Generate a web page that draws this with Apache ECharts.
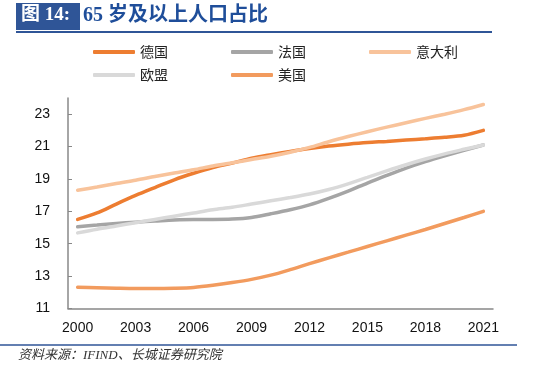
<!DOCTYPE html>
<html><head><meta charset="utf-8">
<script src="https://cdn.jsdelivr.net/npm/echarts@6/dist/echarts.min.js"></script>
<style>html,body{margin:0;padding:0;background:#fff}#c{width:550px;height:368px}</style>
</head><body><div id="c"></div>
<script>
const years = ['2000','2001','2002','2003','2004','2005','2006','2007','2008','2009','2010','2011','2012','2013','2014','2015','2016','2017','2018','2019','2020','2021'];
const germany = [16.5,16.9,17.45,17.98,18.47,18.95,19.35,19.7,19.98,20.28,20.5,20.7,20.88,21.03,21.15,21.25,21.32,21.4,21.48,21.57,21.7,22.0];
const france  = [16.05,16.15,16.25,16.33,16.4,16.47,16.5,16.5,16.52,16.62,16.85,17.1,17.4,17.8,18.25,18.75,19.22,19.67,20.07,20.43,20.77,21.1];
const italy   = [18.3,18.5,18.72,18.92,19.15,19.37,19.57,19.8,20.0,20.2,20.4,20.65,20.95,21.3,21.62,21.92,22.2,22.47,22.74,23.0,23.28,23.6];
const eu      = [15.67,15.9,16.1,16.3,16.5,16.7,16.9,17.1,17.25,17.45,17.65,17.85,18.07,18.35,18.7,19.1,19.5,19.88,20.23,20.55,20.83,21.1];
const usa     = [12.31,12.28,12.25,12.23,12.23,12.25,12.3,12.43,12.6,12.8,13.06,13.4,13.77,14.13,14.48,14.83,15.18,15.53,15.88,16.25,16.62,17.0];
const yTicks = [11,13,15,17,19,21,23];

const chart = echarts.init(document.getElementById('c'));
const mk = (name, data, color) => ({
  name, type:'line', data, smooth:0.3, symbol:'none',
  lineStyle:{width:3.5, color, cap:'round'}, itemStyle:{color}
});
const legendText = {fontSize:14, color:'#222', fontFamily:'Noto Sans CJK SC'};
chart.setOption({
  animation:false,
  grid:{left:68, right:57, top:98, bottom:59.5, containLabel:false},
  graphic:[
    {type:'rect', shape:{x:16,y:3,width:64,height:27}, style:{fill:'#2F5597'}},
    {type:'text', x:21, y:6, style:{text:'图 14:', fill:'#fff', font:'bold 19px "Liberation Serif","Noto Sans CJK SC"'}},
    {type:'text', x:83, y:6, style:{text:'65 岁及以上人口占比', fill:'#1F4E9A', font:'bold 20px "Liberation Serif","Noto Sans CJK SC"'}},
    {type:'line', shape:{x1:16,y1:32,x2:492,y2:32}, style:{stroke:'#2F5597', lineWidth:2}},
    {type:'line', shape:{x1:0,y1:345,x2:517,y2:345}, style:{stroke:'#2F5597', lineWidth:1.5}},
    {type:'text', x:18, y:349, style:{text:'资料来源：IFIND、长城证券研究院', fill:'#333', font:'italic 13px "Liberation Serif","Noto Sans CJK SC"'}}
  ],
  legend:[
    {data:['德国','法国','意大利'], left:93, top:45, padding:0, icon:'roundRect', itemWidth:42, itemHeight:4, itemGap:63, textStyle:legendText},
    {data:['欧盟','美国'], left:93, top:68, padding:0, icon:'roundRect', itemWidth:42, itemHeight:4, itemGap:63, textStyle:legendText}
  ],
  xAxis:{type:'category', data:years, boundaryGap:true,
    axisLine:{lineStyle:{color:'#888', width:1.5}},
    axisTick:{inside:true, length:4, interval:2, lineStyle:{color:'#888'}},
    axisLabel:{interval:2, margin:13, fontSize:14, color:'#111', fontFamily:'Liberation Sans'}},
  yAxis:{type:'value', min:11, max:24, interval:1,
    splitLine:{show:false},
    axisLine:{show:true, lineStyle:{color:'#888', width:1.5}},
    axisTick:{show:true, inside:true, length:4, customValues:yTicks, lineStyle:{color:'#888'}},
    axisLabel:{margin:18, fontSize:14, color:'#111', fontFamily:'Liberation Sans', customValues:yTicks}},
  series:[
    mk('德国', germany, '#ED7D31'),
    mk('法国', france, '#A5A5A5'),
    mk('意大利', italy, '#F8C39B'),
    mk('欧盟', eu, '#D9D9D9'),
    mk('美国', usa, '#F29B5E')
  ]
});
</script></body></html>
